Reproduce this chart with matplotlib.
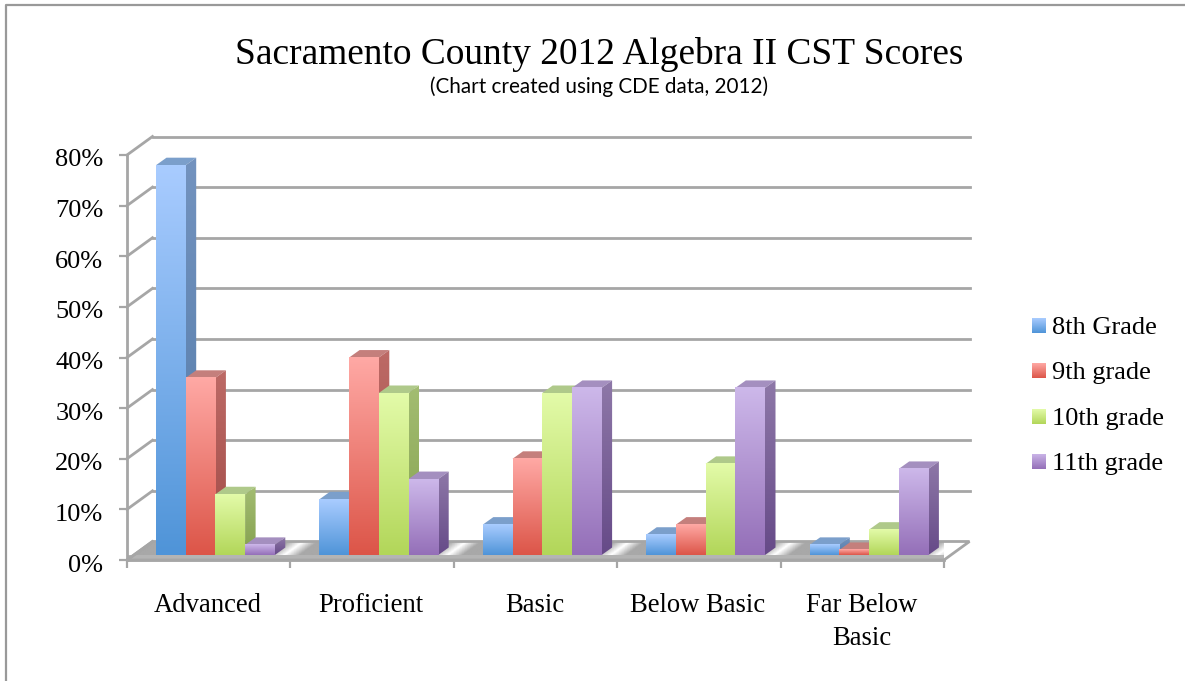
import numpy as np
import matplotlib
matplotlib.use('Agg')
import matplotlib.pyplot as plt
from matplotlib.lines import Line2D
from matplotlib.patches import Polygon, Rectangle
from matplotlib.colors import LinearSegmentedColormap
from matplotlib.transforms import ScaledTranslation

categories = ['Advanced', 'Proficient', 'Basic', 'Below Basic', 'Far Below\nBasic']
series_names = ['8th Grade', '9th grade', '10th grade', '11th grade']
grade8 = [77, 11, 6, 4, 2]
grade9 = [35, 39, 19, 6, 1]
grade10 = [12, 32, 32, 18, 5]
grade11 = [2, 15, 33, 33, 17]
y_ticks = [0, 10, 20, 30, 40, 50, 60, 70, 80]
y_labels = ['0%', '10%', '20%', '30%', '40%', '50%', '60%', '70%', '80%']

# front light, front dark, side light, side dark, top
colors = [('#a9ccff', '#4f94d8', '#7393bf', '#527aa8', '#7b9fcb'),
          ('#ffa9a5', '#dc5548', '#bd6a66', '#a04a46', '#c47f7c'),
          ('#e3fba9', '#b2d659', '#a3bd72', '#84a04e', '#afc98a'),
          ('#cdb8ea', '#946fb8', '#8e78a8', '#664a88', '#a48fbf')]
grid_c = '#a6a6a6'

W, H = 1185, 681
plt.rcParams['font.family'] = ['Liberation Serif', 'DejaVu Serif']
fig = plt.figure(figsize=(W / 100, H / 100), dpi=100)

# frame of the slide, open on the right and at the bottom
fig.add_artist(Line2D([5.5 / W, 5.5 / W, 1], [0, 1 - 4.5 / H, 1 - 4.5 / H], transform=fig.transFigure,
                      color='#999999', lw=1.6))

ax = fig.add_axes([127 / W, (H - 560) / H, 817 / W, 405 / H])
ax.patch.set_alpha(0)

px = 5 / 817.0   # x data per pixel
py = 80 / 405.0  # y data per pixel
back_x = 25.5 * px
back_y = 18.5 * py
base = 5 * py

# floor, metallic streak around each category tick
floor = Polygon([(0, 0), (5, 0), (5 + back_x, back_y), (back_x, back_y)], closed=True,
                fc='none', ec=grid_c, lw=2, clip_on=False, zorder=2)
ax.add_patch(floor)
floor_cmap = LinearSegmentedColormap.from_list('floor', [(0, '#ffffff'), (0.09, '#a8a8a8'), (0.91, '#a8a8a8'), (1, '#ffffff')])
gx, gy = np.meshgrid(np.linspace(0, 5 + back_x, 1000), np.linspace(0, back_y, 40))
phase = (gx - gy * back_x / back_y + 0.5 * back_x + 0.5) % 1
phase = (phase + 0.5) % 1
im = ax.imshow(phase, extent=(0, 5 + back_x, 0, back_y), origin='lower', aspect='auto',
               cmap=floor_cmap, zorder=1)
im.set_clip_path(floor)
ax.add_patch(Rectangle((0, 0), 5, base, fc='#b4b4b4', ec='none', zorder=1.5))

# back wall grid
for t in y_ticks:
    ax.plot([0, back_x], [t, t + back_y], color=grid_c, lw=2, clip_on=False, zorder=2)
    if t > 0:
        ax.plot([back_x, 5 + back_x], [t + back_y, t + back_y], color=grid_c, lw=2, clip_on=False, zorder=2)

bar_w = 29.7 * px
depth_x = 10.5 * px
depth_y = 7.5 * py
start = 29 * px
series = [grade8, grade9, grade10, grade11]

bar_cmaps = [LinearSegmentedColormap.from_list('g%d' % i, [c[1], c[0]]) for i, c in enumerate(colors)]
side_cmaps = [LinearSegmentedColormap.from_list('s%d' % i, [c[3], c[2]]) for i, c in enumerate(colors)]
grad = np.linspace(0, 1, 256).reshape(-1, 1)

z = 5
for s in range(4):
    for c in range(5):
        val = series[s][c]
        x0 = c + start + s * bar_w
        y1 = base + val
        side = Polygon([(x0 + bar_w, base), (x0 + bar_w + depth_x, base + depth_y),
                        (x0 + bar_w + depth_x, y1 + depth_y), (x0 + bar_w, y1)], closed=True,
                       fc='none', ec='none', zorder=z)
        top = Polygon([(x0, y1), (x0 + bar_w, y1), (x0 + bar_w + depth_x, y1 + depth_y), (x0 + depth_x, y1 + depth_y)],
                      closed=True, fc=colors[s][4], ec='none', zorder=z, clip_on=False)
        ax.add_patch(side)
        ax.add_patch(top)
        side_im = ax.imshow(grad, extent=(x0 + bar_w, x0 + bar_w + depth_x, base, y1 + depth_y), origin='lower',
                            aspect='auto', cmap=side_cmaps[s], zorder=z)
        side_im.set_clip_path(side)
        ax.imshow(grad, extent=(x0, x0 + bar_w, base, y1), origin='lower', aspect='auto',
                  cmap=bar_cmaps[s], zorder=z + 0.1, clip_on=False)
ax.set_xlim(0, 5)
ax.set_ylim(0, 80)

# axes
for name in ['top', 'right']:
    ax.spines[name].set_visible(False)
for name in ['left', 'bottom']:
    ax.spines[name].set_color(grid_c)
    ax.spines[name].set_linewidth(2)
    ax.spines[name].set_zorder(3)
ax.set_yticks(y_ticks)
ax.set_yticklabels(y_labels, fontsize=19)
ax.set_xticks(range(6))
ax.set_xticklabels([''] * 6)
ax.tick_params(axis='y', length=6, width=1.6, color=grid_c, pad=11)
ax.tick_params(axis='x', length=6, width=1.6, color=grid_c)
for lab in ax.get_yticklabels():
    lab.set_transform(lab.get_transform() + ScaledTranslation(0, -3 / 100, fig.dpi_scale_trans))
for i, name in enumerate(categories):
    ax.annotate(name, (i + 0.5, 0), xytext=(-0.7, -23.5), textcoords='offset points', ha='center', va='top',
                fontsize=19.2, linespacing=1.45, annotation_clip=False)

fig.text(599 / W, 1 - 55 / H, 'Sacramento County 2012 Algebra II CST Scores', ha='center', va='center', fontsize=26.9)
fig.text(599 / W, 1 - 87 / H, '(Chart created using CDE data, 2012)', ha='center', va='center', fontsize=14.9,
         family=['Lato', 'DejaVu Sans'])

# legend
legend_y = [326, 371, 417, 462]
for i, name in enumerate(series_names):
    lax = fig.add_axes([1032 / W, (H - legend_y[i] - 7) / H, 14 / W, 15 / H])
    lax.imshow(grad, origin='lower', aspect='auto', cmap=bar_cmaps[i])
    lax.axis('off')
    fig.text(1052 / W, 1 - (legend_y[i] + 2) / H, name, ha='left', va='center', fontsize=19)

fig.savefig('out.png', dpi=100)
